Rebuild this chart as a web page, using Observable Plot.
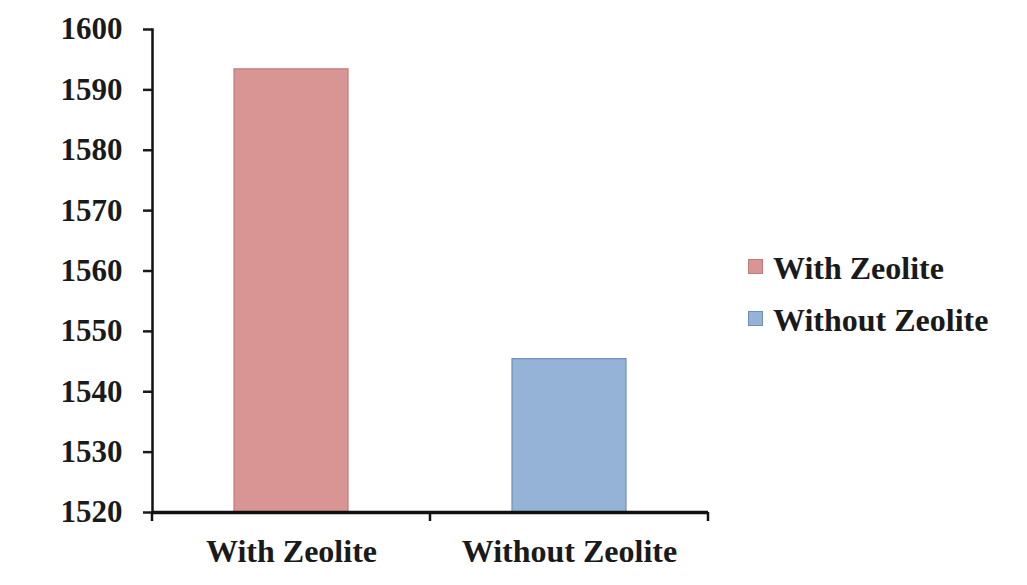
<!DOCTYPE html>
<html>
<head>
<meta charset="utf-8">
<script src="https://cdn.jsdelivr.net/npm/d3@7"></script>
<script src="https://cdn.jsdelivr.net/npm/@observablehq/plot@0.6"></script>
<style>
  body { margin: 0; background: #ffffff; }
  #wrap { position: relative; width: 1027px; height: 585px; }
  .legend { position: absolute; left: 748px; top: 242px; font-family: "Liberation Serif", "DejaVu Serif", serif; font-weight: bold; font-size: 32px; color: #1a1a1a; }
  .legend .item { display: flex; align-items: center; height: 52px; white-space: nowrap; }
  .legend .sw { width: 13px; height: 13px; border: 1px solid; margin-right: 10px; margin-top: -4px; box-sizing: content-box; }
</style>
</head>
<body>
<div id="wrap"></div>
<script>
// Series: one bar per treatment
const categories = ["With Zeolite", "Without Zeolite"];
const values = [1593.4, 1545.4];
const fills = ["#d99594", "#95b3d7"];
const strokes = ["#c07a78", "#6f8fba"];
const yTicks = [1520, 1530, 1540, 1550, 1560, 1570, 1580, 1590, 1600];

const data = categories.map((c, i) => ({category: c, value: values[i], fill: fills[i], stroke: strokes[i]}));
const baseline = yTicks[0];
const font = '"Liberation Serif", "DejaVu Serif", serif';

const chart = Plot.plot({
  width: 1027,
  height: 585,
  marginLeft: 152,
  marginRight: 319,
  marginTop: 29,
  marginBottom: 73,
  style: {fontFamily: font, color: "#1a1a1a", background: "#ffffff"},
  x: {domain: categories, paddingInner: 0.59, paddingOuter: 0.295, label: null},
  y: {domain: [yTicks[0], yTicks[yTicks.length - 1]], label: null},
  marks: [
    Plot.barY(data, {
      x: "category",
      y1: () => baseline,
      y2: "value",
      fill: d => d.fill,
      stroke: d => d.stroke,
      strokeWidth: 1.2
    }),
    Plot.axisY({
      ticks: yTicks,
      tickSize: 9,
      tickPadding: 21,
      tickFormat: d => String(d),
      strokeWidth: 2.5,
      fontSize: 31,
      fontWeight: "bold",
      fontFamily: font
    }),
    Plot.axisX({
      tickSize: 0,
      tickPadding: 27,
      fontSize: 32,
      fontWeight: "bold",
      fontFamily: font
    }),
    Plot.frame({anchor: "left", stroke: "#111", strokeWidth: 2.5}),
    Plot.ruleY([baseline], {stroke: "#111", strokeWidth: 3.5})
  ]
});

// Category-boundary tick marks on the x axis, placed through the band scale
const xs = chart.scale("x");
const ys = chart.scale("y");
const gap = (xs.step - xs.bandwidth) / 2;
const bounds = categories.map(c => xs.apply(c) - gap);
bounds.push(xs.apply(categories[categories.length - 1]) + xs.bandwidth + gap);
const y0 = ys.apply(baseline);
d3.select(chart).append("g")
  .attr("stroke", "#111")
  .attr("stroke-width", 2.5)
  .selectAll("line")
  .data(bounds)
  .join("line")
  .attr("x1", d => d).attr("x2", d => d)
  .attr("y1", y0).attr("y2", y0 + 9);

const wrap = document.getElementById("wrap");
wrap.appendChild(chart);

// Legend to the right of the plot
const legend = document.createElement("div");
legend.className = "legend";
data.forEach(d => {
  const item = document.createElement("div");
  item.className = "item";
  const sw = document.createElement("span");
  sw.className = "sw";
  sw.style.background = d.fill;
  sw.style.borderColor = d.stroke;
  const label = document.createElement("span");
  label.textContent = d.category;
  item.appendChild(sw);
  item.appendChild(label);
  legend.appendChild(item);
});
wrap.appendChild(legend);
</script>
</body>
</html>
